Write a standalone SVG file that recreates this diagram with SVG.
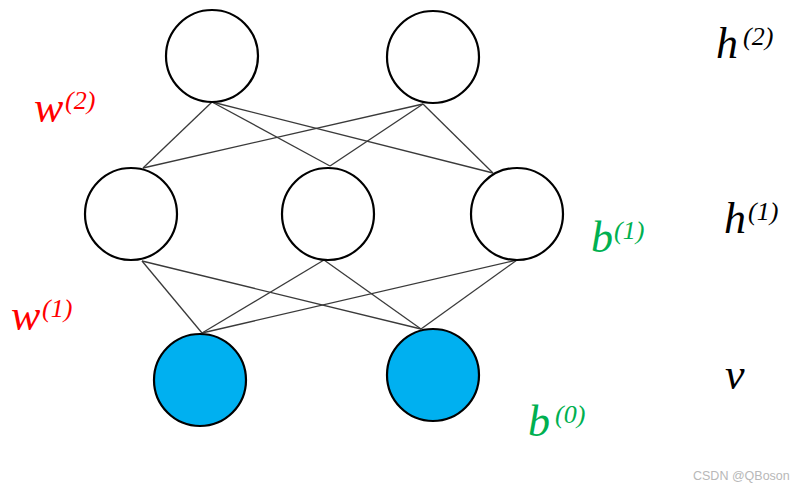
<svg xmlns="http://www.w3.org/2000/svg" width="812" height="491" viewBox="0 0 812 491">
<style>
.n{fill:#fff;stroke:#000;stroke-width:2.2}
.v{fill:#00b0f0;stroke:#000;stroke-width:2.2}
.e{stroke:#3a3a3a;stroke-width:1.3;fill:none}
.lab{font-family:"Liberation Serif","Times New Roman",serif;font-style:italic;font-size:44px}
.sup{font-size:26px}
.red{fill:#ff0000}
.grn{fill:#00b050}
.blk{fill:#000}
.wm{font-family:"Liberation Sans",Arial,sans-serif;font-size:12.5px;fill:#b8b8b8}
</style>
<rect width="812" height="491" fill="#fff"/>
<g id="connectors">
<line class="e" x1="212" y1="102" x2="143" y2="168"/>
<line class="e" x1="212" y1="102" x2="330" y2="166"/>
<line class="e" x1="212" y1="102" x2="493" y2="173"/>
<line class="e" x1="423" y1="104" x2="143" y2="168"/>
<line class="e" x1="423" y1="104" x2="330" y2="166"/>
<line class="e" x1="423" y1="104" x2="493" y2="173"/>
<line class="e" x1="142" y1="261" x2="202" y2="333"/>
<line class="e" x1="142" y1="261" x2="421" y2="329"/>
<line class="e" x1="324" y1="260" x2="202" y2="333"/>
<line class="e" x1="324" y1="260" x2="421" y2="329"/>
<line class="e" x1="517" y1="260" x2="202" y2="333"/>
<line class="e" x1="517" y1="260" x2="421" y2="329"/>
</g>
<g id="h2_1"><circle class="n" cx="212" cy="56" r="46"/></g>
<g id="h2_2"><circle class="n" cx="433" cy="57" r="46"/></g>
<g id="h1_1"><circle class="n" cx="131" cy="214" r="46"/></g>
<g id="h1_2"><circle class="n" cx="328" cy="214" r="46"/></g>
<g id="h1_3"><circle class="n" cx="517" cy="214" r="46"/></g>
<g id="v_1"><circle class="v" cx="200" cy="380" r="46"/></g>
<g id="v_2"><circle class="v" cx="433" cy="375" r="46"/></g>
<g id="labels">
<text class="lab red"><tspan x="34" y="122">w</tspan><tspan class="sup" x="65" y="109">(2)</tspan></text>
<text class="lab red"><tspan x="11" y="330">w</tspan><tspan class="sup" x="42" y="317">(1)</tspan></text>
<text class="lab grn"><tspan x="591" y="252">b</tspan><tspan class="sup" x="614" y="239">(1)</tspan></text>
<text class="lab grn"><tspan x="528" y="436">b</tspan><tspan class="sup" x="555" y="423">(0)</tspan></text>
<text class="lab blk"><tspan x="716" y="58">h</tspan><tspan class="sup" x="743" y="45">(2)</tspan></text>
<text class="lab blk"><tspan x="724" y="233">h</tspan><tspan class="sup" x="748" y="220">(1)</tspan></text>
<text class="lab blk" x="725" y="389">v</text>
<text class="wm" x="693" y="480">CSDN @QBoson</text>
</g>
</svg>
